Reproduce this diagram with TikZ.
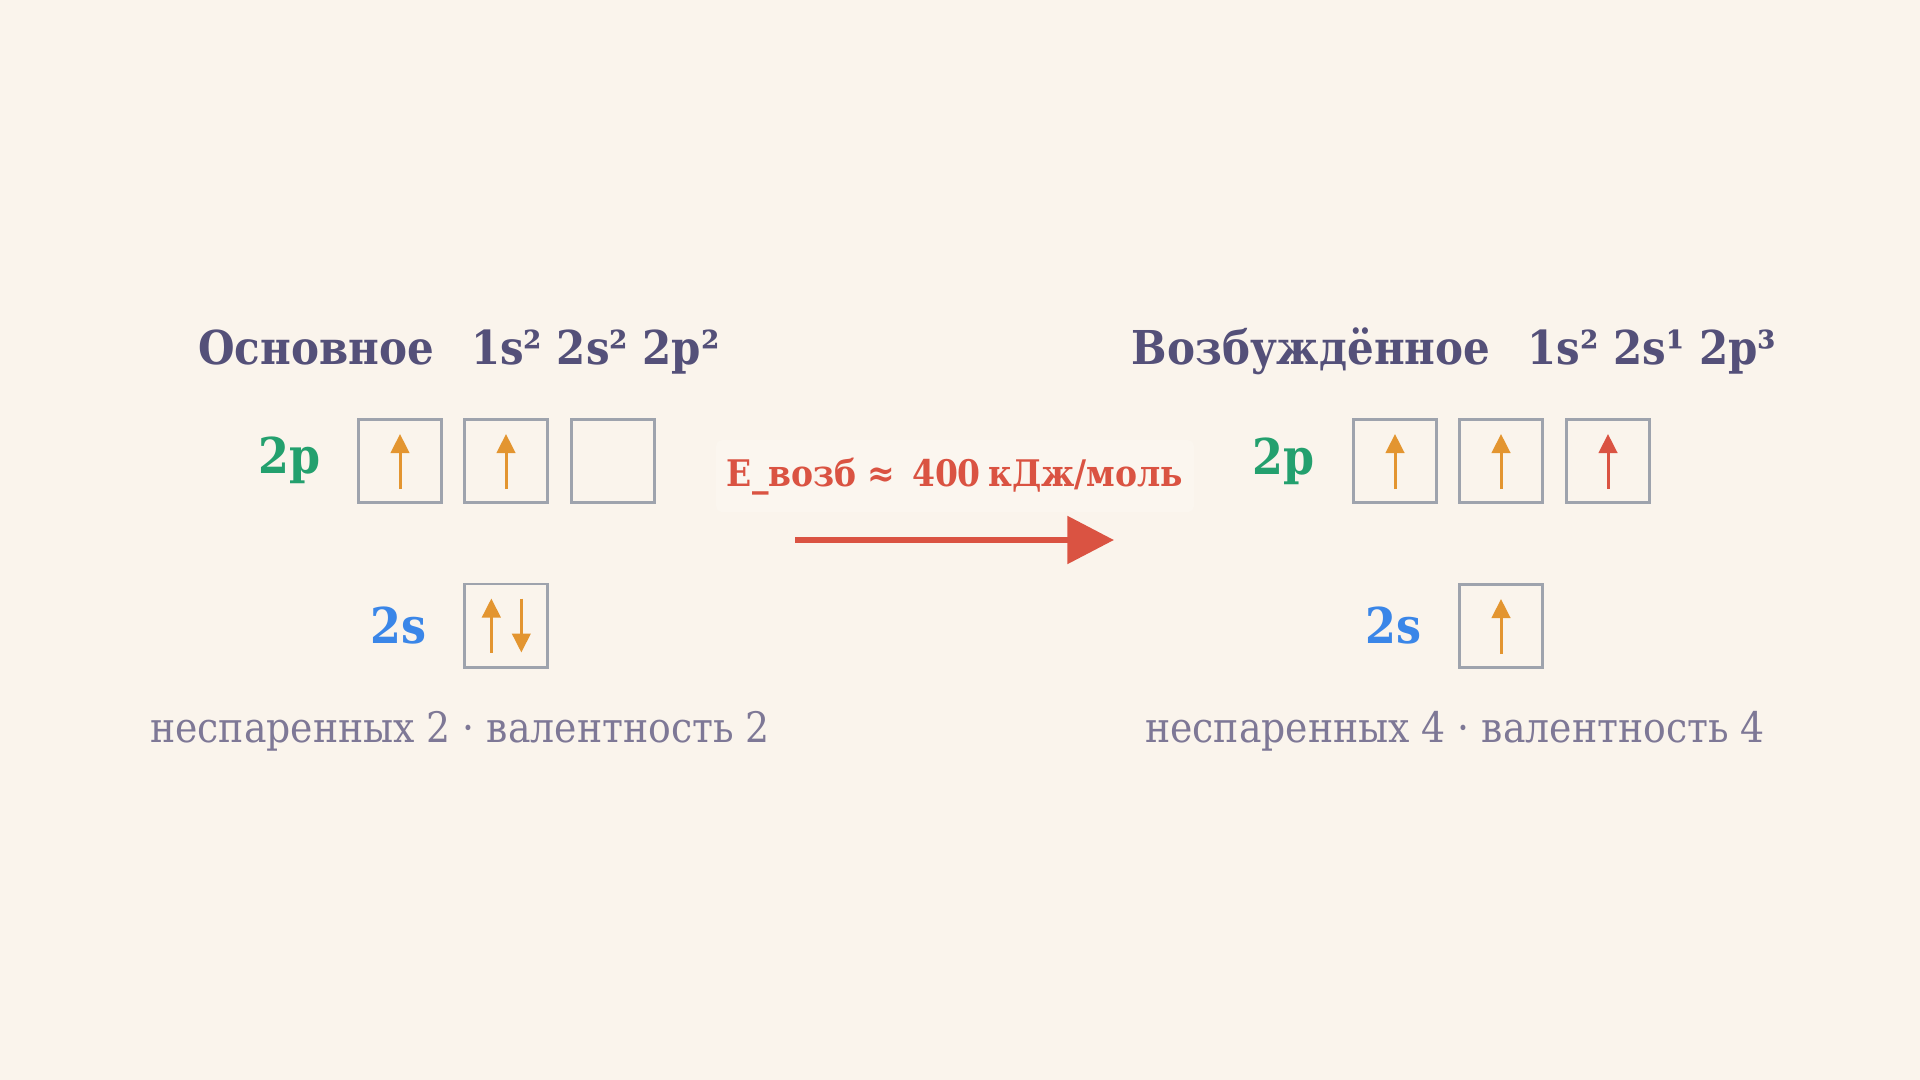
\documentclass[tikz,border=0pt]{standalone}
\usepackage{fontspec}
\setmainfont{DejaVu Serif Condensed}
\usetikzlibrary{arrows.meta}
\definecolor{bg}{HTML}{FAF4EC}
\definecolor{labelbg}{HTML}{FBF6EF}
\definecolor{titlec}{HTML}{545079}
\definecolor{greenc}{HTML}{23A06E}
\definecolor{bluec}{HTML}{3A86E8}
\definecolor{spinor}{HTML}{E39530}
\definecolor{redc}{HTML}{DA5342}
\definecolor{boxgray}{HTML}{9EA3AD}
\definecolor{notec}{HTML}{7E7896}
\tikzset{
  orb/.style={draw=boxgray, line width=1.9pt, minimum width=62.6pt, minimum height=62.6pt, inner sep=0pt},
  spin/.style={draw=spinor, line width=2.25pt, -{Triangle[length=14.25pt,width=13.8pt]}},
  ttl/.style={text=titlec, font=\bfseries\fontsize{35}{40}\selectfont, anchor=base, inner sep=0pt},
  plab/.style={text=greenc, font=\bfseries\fontsize{37}{42}\selectfont, anchor=base east, inner sep=0pt},
  slab/.style={text=bluec, font=\bfseries\fontsize{37}{42}\selectfont, anchor=base east, inner sep=0pt},
  note/.style={text=notec, font=\fontsize{31.5}{36}\selectfont, anchor=base, inner sep=0pt},
  elab/.style={text=redc, fill=labelbg, rounded corners=4pt, font=\bfseries\fontsize{27.5}{32}\selectfont, anchor=base, inner xsep=8pt, inner ysep=13pt},
  bigarrow/.style={draw=redc, line width=4.9pt, -{Triangle[length=35pt,width=35pt]}}
}
\begin{document}
\begin{tikzpicture}[x=0.75pt,y=-0.75pt]
\useasboundingbox (0,0) rectangle (1920,1080);
\fill[bg] (0,0) rectangle (1920,1080);

% left: ground state
\node[ttl] (t1) at (459,365) {Основное\hspace{0.8em}1s² 2s² 2p²};
\node[plab] (p1) at (321,473) {2p};
\node[orb] (a1) at (400,461) {};
\node[orb] (a2) at (506,461) {};
\node[orb] (a3) at (613,461) {};
\node[slab] (s1) at (427,643) {2s};
\node[orb] (as) at (506,625.5) {};
\node[note] (n1) at (460,742) {неспаренных 2 · валентность 2};

\draw[spin] ([yshift=-21pt]a1.center) -- ([yshift=20.25pt]a1.center);
\draw[spin] ([yshift=-21pt]a2.center) -- ([yshift=20.25pt]a2.center);
\draw[spin] ([xshift=-11pt,yshift=-20.25pt]as.center) -- ([xshift=-11pt,yshift=20.25pt]as.center);
\draw[spin] ([xshift=11.5pt,yshift=20.25pt]as.center) -- ([xshift=11.5pt,yshift=-20.25pt]as.center);

% middle
\node[elab] (e) at (955,486) {E\_возб ≈\hspace{0.45em}400\hspace{0.2em}кДж/моль};
\coordinate (ar0) at (795,540);
\coordinate (ar1) at (1114,540);
\draw[bigarrow] (ar0) -- (ar1);

% right: excited state
\node[ttl] (t2) at (1454,365) {Возбуждённое\hspace{0.8em}1s² 2s¹ 2p³};
\node[plab] (p2) at (1315,474) {2p};
\node[orb] (b1) at (1395,461) {};
\node[orb] (b2) at (1501,461) {};
\node[orb] (b3) at (1608,461) {};
\node[slab] (s2) at (1422,643) {2s};
\node[orb] (bs) at (1501,626) {};
\node[note] (n2) at (1455,742) {неспаренных 4 · валентность 4};

\draw[spin] ([yshift=-21pt]b1.center) -- ([yshift=20.25pt]b1.center);
\draw[spin] ([yshift=-21pt]b2.center) -- ([yshift=20.25pt]b2.center);
\draw[spin, draw=redc, fill=redc] ([yshift=-21pt]b3.center) -- ([yshift=20.25pt]b3.center);
\draw[spin] ([yshift=-21pt]bs.center) -- ([yshift=20.25pt]bs.center);
\end{tikzpicture}
\end{document}
